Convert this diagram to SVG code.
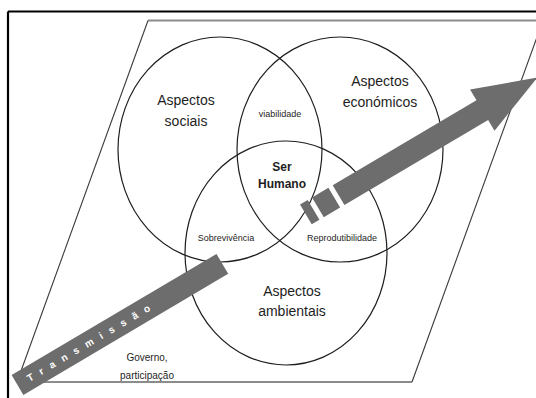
<svg xmlns="http://www.w3.org/2000/svg" width="536" height="398" viewBox="0 0 536 398">
  <style>
    .label { font-family: "Liberation Sans", Arial, sans-serif; fill: #1e1e1e; text-anchor: middle; }
    .big { font-size: 14px; }
    .small { font-size: 9px; }
    .mid { font-size: 10px; }
    .core { font-size: 12px; font-weight: bold; }
    .ring { fill: none; stroke: #1e1e1e; stroke-width: 1.2; }
    .edge { stroke: #3a3a3a; stroke-width: 1.1; fill: none; }
    .edge-flat { stroke: #8c8c8c; stroke-width: 2; fill: none; }
    .band { fill: #6d6d6d; }
    .band-text { font-family: "Liberation Sans", Arial, sans-serif; font-size: 10px; font-weight: bold; fill: #ffffff; letter-spacing: 8px; }
  </style>

  <rect width="536" height="398" fill="#ffffff"/>

  <!-- outer frame -->
  <g id="frame">
    <line x1="8" y1="11.5" x2="536" y2="11.5" stroke="#000" stroke-width="2.2"/>
    <line x1="8" y1="11.5" x2="8" y2="398" stroke="#000" stroke-width="2.2"/>
  </g>

  <!-- governance plane -->
  <g id="plane">
    <line class="edge-flat" x1="148" y1="20.5" x2="543" y2="20.5" stroke="#9a9a9a"/>
    <line class="edge" x1="148" y1="20.5" x2="17" y2="382"/>
    <line class="edge-flat" x1="17" y1="382" x2="412" y2="382"/>
    <line class="edge" x1="412" y1="382" x2="543" y2="20.5"/>
    <text class="label mid" x="147" y="361">Governo,</text>
    <text class="label mid" x="147" y="379">participação</text>
  </g>

  <!-- the three aspect circles -->
  <g id="social">
    <ellipse class="ring" cx="220" cy="149.5" rx="102" ry="112.5"/>
    <text class="label big" x="186" y="105">Aspectos</text>
    <text class="label big" x="186" y="126">sociais</text>
  </g>
  <g id="economic">
    <ellipse class="ring" cx="340" cy="149.5" rx="103" ry="112.5"/>
    <text class="label big" x="380" y="86">Aspectos</text>
    <text class="label big" x="380" y="107">económicos</text>
  </g>
  <g id="environmental">
    <ellipse class="ring" cx="286" cy="253" rx="101" ry="112"/>
    <text class="label big" x="292" y="296">Aspectos</text>
    <text class="label big" x="292" y="316">ambientais</text>
  </g>

  <!-- overlap labels -->
  <g id="viabilidade">
    <text class="label small" x="280" y="117">viabilidade</text>
  </g>
  <g id="sobrevivencia">
    <text class="label small" x="226" y="241">Sobrevivência</text>
  </g>
  <g id="reprodutibilidade">
    <text class="label small" x="342" y="241">Reprodutibilidade</text>
  </g>
  <g id="ser-humano">
    <text class="label core" x="282" y="171">Ser</text>
    <text class="label core" x="282" y="188">Humano</text>
  </g>

  <!-- transmission arrow -->
  <g id="connectors">
    <g id="transmissao" transform="translate(17.5,385) rotate(-30.6)">
      <rect class="band" x="0" y="-11.5" width="238" height="23"/>
      <rect class="band" x="335" y="-11.5" width="9" height="23"/>
      <rect class="band" x="349" y="-11.5" width="19" height="23"/>
      <rect class="band" x="373" y="-11.5" width="168" height="23"/>
      <polygon class="band" points="540,-24 604,0 540,24"/>
      <text class="band-text" x="12" y="3.5">Transmissão</text>
    </g>
  </g>
</svg>
